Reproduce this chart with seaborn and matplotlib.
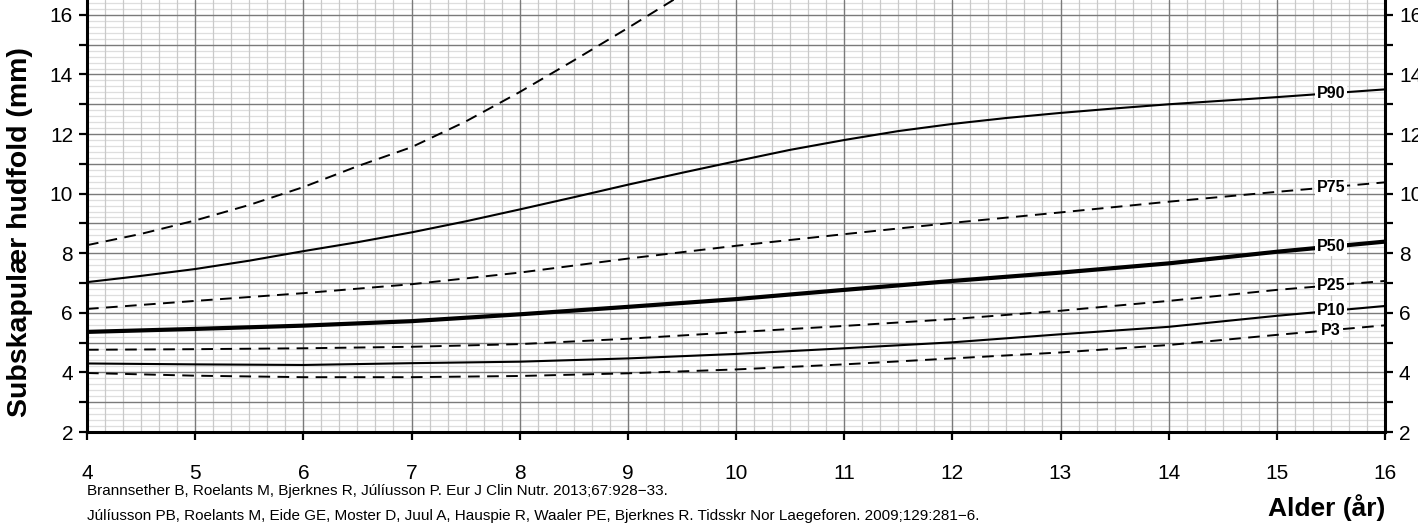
import numpy as np
import pandas as pd
import matplotlib
matplotlib.use("Agg")
import matplotlib.pyplot as plt
from matplotlib.ticker import MultipleLocator, FuncFormatter
import seaborn as sns

# ages in years, values in mm
ages = [4, 5, 6, 7, 8, 9, 10, 11, 12, 13, 14, 15, 16]
ages_half = [4, 4.5, 5, 5.5, 6, 6.5, 7, 7.5, 8, 8.5, 9, 9.5, 10, 10.5, 11, 11.5,
             12, 12.5, 13, 13.5, 14, 14.5, 15, 15.5, 16]
ages_p97 = [4, 4.5, 5, 5.5, 6, 6.5, 7, 7.5, 8, 8.5, 9, 9.5]

p97 = [8.27, 8.65, 9.1, 9.62, 10.22, 10.92, 11.56, 12.42, 13.41, 14.47, 15.56, 16.68]
p90 = [7.03, 7.24, 7.47, 7.75, 8.07, 8.37, 8.70, 9.07, 9.47, 9.88, 10.3, 10.7, 11.09,
       11.47, 11.8, 12.1, 12.34, 12.54, 12.71, 12.86, 13.0, 13.12, 13.24, 13.37, 13.5]
p75 = [6.13, 6.40, 6.66, 6.96, 7.35, 7.82, 8.25, 8.64, 9.02, 9.37, 9.73, 10.06, 10.38]
p50 = [5.36, 5.46, 5.57, 5.72, 5.95, 6.20, 6.46, 6.77, 7.07, 7.35, 7.66, 8.05, 8.39]
p25 = [4.76, 4.78, 4.81, 4.86, 4.95, 5.13, 5.35, 5.56, 5.79, 6.07, 6.40, 6.77, 7.07]
p10 = [4.30, 4.27, 4.25, 4.31, 4.36, 4.47, 4.62, 4.81, 5.01, 5.28, 5.53, 5.90, 6.23]
p3 = [3.98, 3.89, 3.84, 3.84, 3.88, 3.97, 4.10, 4.27, 4.47, 4.67, 4.92, 5.26, 5.58]

refs = [
    "Brannsether B, Roelants M, Bjerknes R, Júlíusson P. Eur J Clin Nutr. 2013;67:928\u221233.",
    "Júlíusson PB, Roelants M, Eide GE, Moster D, Juul A, Hauspie R, Waaler PE, Bjerknes R. "
    "Tidsskr Nor Laegeforen. 2009;129:281\u22126.",
]

sns.set_style("white")
plt.rcParams["font.family"] = ["Liberation Sans", "DejaVu Sans"]
plt.rcParams["text.color"] = "black"

W, H = 1418, 528
fig = plt.figure(figsize=(W / 100, H / 100), dpi=100)
ax = fig.add_axes([87 / W, 96 / H, 1298 / W, 432 / H])

dash = (0, (6, 3.8))
curves = [
    ("P97", ages_p97, p97, 1.4, dash, False),
    ("P90", ages_half, p90, 1.5, "-", True),
    ("P75", ages, p75, 1.4, dash, True),
    ("P50", ages, p50, 3.0, "-", True),
    ("P25", ages, p25, 1.4, dash, True),
    ("P10", ages, p10, 1.5, "-", True),
    ("P3", ages, p3, 1.4, dash, True),
]

for name, x, y, lw, ls, labelled in curves:
    df = pd.DataFrame({"age": x, "val": y})
    sns.lineplot(data=df, x="age", y="val", ax=ax, color="black", lw=lw,
                 linestyle=ls, zorder=3, clip_on=True)
    if labelled:
        ax.text(15.5, np.interp(15.5, x, y), name, ha="center", va="center",
                fontsize=11.5, fontweight="bold", color="black", zorder=4,
                bbox=dict(boxstyle="square,pad=0.12", fc="white", ec="none"))

ax.set_xlim(4, 16)
ax.set_ylim(2, 16.5)

ax.xaxis.set_major_locator(MultipleLocator(1))
ax.xaxis.set_minor_locator(MultipleLocator(1 / 6))
ax.yaxis.set_major_locator(MultipleLocator(1))
ax.yaxis.set_minor_locator(MultipleLocator(0.2))
ax.yaxis.set_major_formatter(FuncFormatter(lambda v, p: f"{v:.0f}" if round(v) % 2 == 0 else ""))

ax.grid(False)
ax.set_axisbelow(True)
for v in np.arange(2.2, 16.5, 0.2):
    if abs(v - round(v)) > 0.01:
        ax.axhline(v, color="#dedede", lw=0.9, zorder=0)
for v in np.arange(4, 16, 1 / 6):
    if abs(v - round(v)) > 0.01:
        ax.axvline(v, color="#c9c9c9", lw=0.9, zorder=0.5)
for v in range(3, 17):
    ax.axhline(v, color="#7a7a7a", lw=1.0, zorder=1)
for v in range(5, 16):
    ax.axvline(v, color="#7a7a7a", lw=1.0, zorder=1)

ax.tick_params(axis="both", which="major", direction="out", length=6, width=1.6,
               color="black", labelsize=15, labelcolor="black")
ax.tick_params(axis="both", which="minor", length=0)
ax.tick_params(axis="y", which="major", left=True, right=True, labelleft=True,
               labelright=True, pad=4)
ax.tick_params(axis="x", which="major", bottom=True, pad=17)

for side in ["left", "bottom", "right"]:
    ax.spines[side].set_visible(True)
    ax.spines[side].set_linewidth(2.2)
    ax.spines[side].set_color("black")
    ax.spines[side].set_zorder(5)
ax.spines["top"].set_visible(False)

ax.set_xlabel("")
ax.set_ylabel("")

fig.text(20 / W, 1 - 232 / H, "Subskapulær hudfold (mm)", rotation=90,
         ha="center", va="center", fontsize=20.5, fontweight="bold")
fig.text(1385 / W, 1 - 508 / H, "Alder (år)", ha="right", va="center",
         fontsize=19, fontweight="bold")
fig.text(87 / W, 1 - 491 / H, refs[0], ha="left", va="center", fontsize=11)
fig.text(87 / W, 1 - 516 / H, refs[1], ha="left", va="center", fontsize=11)

fig.savefig("out.png", dpi=100)
